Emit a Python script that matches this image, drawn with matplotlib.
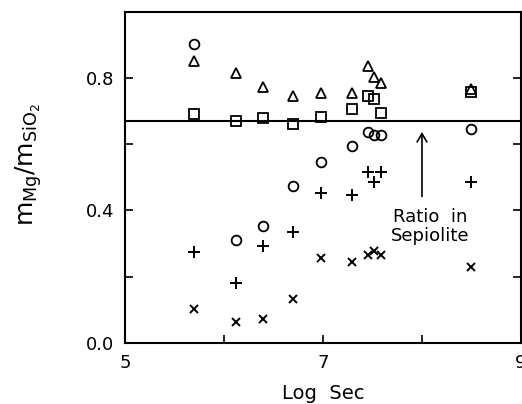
import matplotlib.pyplot as plt

# log time (x) for each sampling, same for all series
log_sec = [5.7, 6.12, 6.39, 6.7, 6.98, 7.29, 7.45, 7.52, 7.59, 8.5]

# Mg / SiO2 ratio, one list per marker series
circles = [0.904, 0.311, 0.354, 0.473, 0.547, 0.595, 0.638, 0.629, 0.629, 0.647]
triangles = [0.852, 0.815, 0.773, 0.745, 0.754, 0.754, 0.836, 0.805, 0.787, 0.766]
squares = [0.693, 0.672, 0.681, 0.663, 0.684, 0.706, 0.747, 0.737, 0.696, 0.757]
plusses = [0.273, 0.182, 0.293, 0.335, 0.454, 0.447, 0.515, 0.485, 0.515, 0.487]
crosses = [0.103, 0.062, 0.072, 0.133, 0.256, 0.245, 0.266, 0.276, 0.266, 0.228]

sepiolite_ratio = 0.672

plt.rcParams['font.family'] = ['DejaVu Sans']
plt.rcParams['mathtext.fontset'] = 'dejavusans'

fig = plt.figure(figsize=(5.22, 4.04), dpi=100)
ax = fig.add_axes([0.2395, 0.1517, 0.7585, 0.8183])

ax.plot(log_sec, circles, 'o', mfc='none', mec='black', ms=7, mew=1.3)
ax.plot(log_sec, triangles, '^', mfc='none', mec='black', ms=7, mew=1.3)
ax.plot(log_sec, squares, 's', mfc='none', mec='black', ms=6.5, mew=1.3)
ax.plot(log_sec, plusses, '+', color='black', ms=8, mew=1.4)
ax.plot(log_sec, crosses, 'x', color='black', ms=5.5, mew=1.4)

ax.axhline(sepiolite_ratio, color='black', lw=1.5)

# arrow + label pointing at the sepiolite line
ax.annotate('', xy=(8.0, 0.646), xytext=(8.0, 0.434),
            arrowprops=dict(arrowstyle='->,head_length=0.6,head_width=0.35', color='black', lw=1.2))
ax.text(8.08, 0.352, 'Ratio  in\nSepiolite', ha='center', va='center', fontsize=13, linespacing=1.1)

ax.set_xlim(5, 9)
ax.set_ylim(0, 1.0)
ax.set_xticks([5, 6, 7, 8, 9])
ax.set_xticklabels(['5', '', '7', '', '9'])
ax.set_yticks([0.0, 0.2, 0.4, 0.6, 0.8, 1.0])
ax.set_yticklabels(['0.0', '', '0.4', '', '0.8', ''])
ax.tick_params(direction='in', length=6, width=1.2, labelsize=13, right=True, pad=8)

for s in ax.spines.values():
    s.set_linewidth(1.5)

ax.set_xlabel('Log  Sec', fontsize=14)
ax.xaxis.set_label_coords(0.5, -0.125)
ax.set_ylabel(r'$\mathregular{m_{Mg}/m_{SiO_2}}$', fontsize=18)
ax.yaxis.set_label_coords(-0.205, 0.54)

plt.savefig('out.png', dpi=100)
